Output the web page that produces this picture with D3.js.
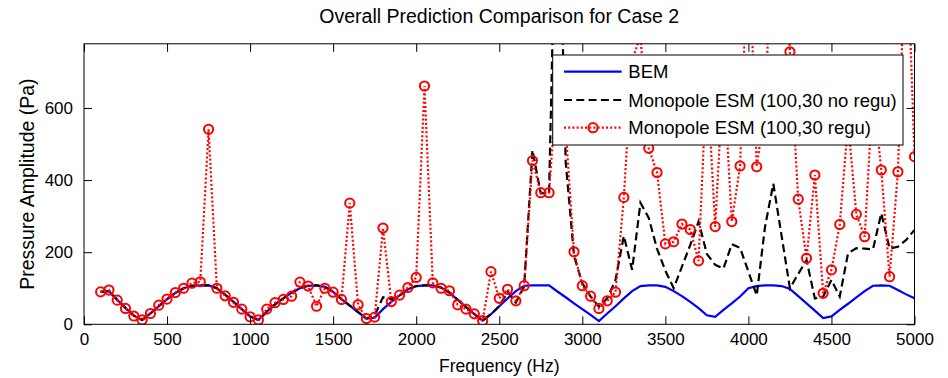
<!DOCTYPE html>
<html><head><meta charset="utf-8">
<script src="https://cdn.jsdelivr.net/npm/d3@7/dist/d3.min.js"></script>
<style>
body{margin:0;background:#fff}
text{font-family:"Liberation Sans",Arial,Helvetica,sans-serif;fill:#000}
</style>
</head><body>
<svg id="c" width="948" height="378"></svg>
<script>
// ---- data ----
const freqHz = [100,150,200,250,300,350,400,450,500,550,600,650,700,750,800,850,900,950,1000,1050,
  1100,1150,1200,1250,1300,1350,1400,1450,1500,1550,1600,1650,1700,1750,1800,1850,1900,1950,2000,2050,
  2100,2150,2200,2250,2300,2350,2400,2450,2500,2550,2600,2650,2700,2750,2800,2850,2900,2950,3000,3050,
  3100,3150,3200,3250,3300,3350,3400,3450,3500,3550,3600,3650,3700,3750,3800,3850,3900,3950,4000,4050,
  4100,4150,4200,4250,4300,4350,4400,4450,4500,4550,4600,4650,4700,4750,4800,4850,4900,4950,5000];

const bemPa = [90,92,68,45,24,12,30,50,70,87,100,107,108,108,100,82,62,42,22,12,
  35,55,72,88,100,107,108,104,90,70,52,34,16,18,42,62,80,97,106,108,
  108,102,88,68,48,28,10,28,50,72,92,107,108,108,108,91,75,58,42,26,
  9,30,50,72,92,106,108,108,104,92,78,62,45,25,21,40,58,77,100,106,
  108,108,106,98,78,58,38,17,22,40,57,75,92,107,108,107,95,83,72];

const noReguPa = [90,92,68,45,24,12,30,50,70,87,100,107,108,108,100,82,62,42,22,12,
  35,55,72,88,100,107,108,104,90,70,52,34,16,25,75,70,80,97,106,108,
  108,102,88,68,48,28,10,28,50,90,60,105,483,363,365,1400,450,190,114,77,
  49,72,123,245,151,337,295,209,149,100,160,220,285,195,165,155,222,212,146,80,
  270,390,245,100,140,178,72,77,123,77,197,211,210,208,308,210,215,234,262];

const reguPa = [90,95,67,44,23,12,30,53,70,88,100,114,118,541,100,79,61,42,21,12,
  42,60,69,78,117,106,50,100,89,69,336,54,16,20,267,63,81,102,130,661,
  115,100,93,54,42,29,10,146,72,97,65,107,454,365,365,690,540,201,107,78,
  44,65,89,352,732,800,488,421,223,229,278,263,176,700,271,700,285,439,1100,437,
  600,1150,1300,756,347,183,414,86,151,277,560,305,243,650,428,132,423,1130,465];

const xTicks = [0,500,1000,1500,2000,2500,3000,3500,4000,4500,5000];
const yTicks = [0,200,400,600];
const seriesNames = ["BEM","Monopole ESM (100,30 no regu)","Monopole ESM (100,30 regu)"];
const titleText = "Overall Prediction Comparison for Case 2";
const xLabel = "Frequency (Hz)";
const yLabel = "Pressure Amplitude (Pa)";

// ---- layout ----
const L = 84, R = 914.5, T = 43.8, B = 324.3;
const FS_TICK = 17, FS_XLAB = 17.5, FS_YLAB = 19.5, FS_TITLE = 19.5, FS_LEG = 18.5;
const svg = d3.select("#c");
const x = d3.scaleLinear().domain([0,5000]).range([L,R]);
const y = d3.scaleLinear().domain([0,778]).range([B,T]);

svg.append("defs").append("clipPath").attr("id","clip")
  .append("rect").attr("x",L).attr("y",T).attr("width",R-L).attr("height",B-T);

svg.append("rect").attr("x",L).attr("y",T).attr("width",R-L).attr("height",B-T).attr("fill","#fff");

const plot = svg.append("g").attr("clip-path","url(#clip)");
const line = d3.line().x((d,i)=>x(freqHz[i])).y(d=>y(d));

plot.append("path").datum(bemPa).attr("d",line)
  .attr("fill","none").attr("stroke","#0000ff").attr("stroke-width",2.2);
plot.append("path").datum(noReguPa).attr("d",line)
  .attr("fill","none").attr("stroke","#000").attr("stroke-width",2.2)
  .attr("stroke-dasharray","8,4.3");
plot.append("path").datum(reguPa).attr("d",line)
  .attr("fill","none").attr("stroke","#ff0000").attr("stroke-width",2.2)
  .attr("stroke-dasharray","2,2.2");
plot.selectAll("circle.m").data(reguPa).enter().append("circle").attr("class","m")
  .attr("cx",(d,i)=>x(freqHz[i])).attr("cy",d=>y(d)).attr("r",4.6)
  .attr("fill","none").attr("stroke","#ff0000").attr("stroke-width",2);

// ---- axes (ticks inward, box) ----
function styleAxis(g, showLabels){
  g.select(".domain").remove();
  g.selectAll(".tick line").attr("stroke","#000");
  g.selectAll(".tick text").style("font-size",FS_TICK+"px");
  if(!showLabels) g.selectAll(".tick text").remove();
}
svg.append("g").attr("transform",`translate(0,${B})`)
  .call(d3.axisBottom(x).tickValues(xTicks).tickSize(-8).tickPadding(9).tickFormat(d3.format("d")))
  .call(g=>styleAxis(g,true));
svg.append("g").attr("transform",`translate(0,${T})`)
  .call(d3.axisTop(x).tickValues(xTicks).tickSize(-8))
  .call(g=>styleAxis(g,false));
svg.append("g").attr("transform",`translate(${L},0)`)
  .call(d3.axisLeft(y).tickValues(yTicks).tickSize(-8).tickPadding(11).tickFormat(d3.format("d")))
  .call(g=>styleAxis(g,true));
svg.append("g").attr("transform",`translate(${R},0)`)
  .call(d3.axisRight(y).tickValues(yTicks).tickSize(-8))
  .call(g=>styleAxis(g,false));

svg.append("rect").attr("x",L).attr("y",T).attr("width",R-L).attr("height",B-T)
  .attr("fill","none").attr("stroke","#000").attr("stroke-width",1);

// ---- texts ----
svg.append("text").attr("x",(L+R)/2).attr("y",23).attr("text-anchor","middle")
  .style("font-size",FS_TITLE+"px").text(titleText);
svg.append("text").attr("x",(L+R)/2).attr("y",372).attr("text-anchor","middle")
  .style("font-size",FS_XLAB+"px").text(xLabel);
svg.append("text").attr("transform",`translate(34,${(T+B)/2}) rotate(-90)`).attr("text-anchor","middle")
  .style("font-size",FS_YLAB+"px").text(yLabel);

// ---- legend ----
const lg = svg.append("g");
lg.append("rect").attr("x",552.7).attr("y",55).attr("width",350.3).attr("height",90)
  .attr("fill","#fff").attr("stroke","#000").attr("stroke-width",1);
const legY = [71.7,100,127.7];
const legStyle = [
  {c:"#0000ff",dash:null,marker:false},
  {c:"#000",dash:"8,4.3",marker:false},
  {c:"#ff0000",dash:"2,2.2",marker:true}
];
seriesNames.forEach((name,i)=>{
  const yy = legY[i], s = legStyle[i];
  const ln = lg.append("line").attr("x1",564).attr("x2",621.7).attr("y1",yy).attr("y2",yy)
    .attr("stroke",s.c).attr("stroke-width",2.2);
  if(s.dash) ln.attr("stroke-dasharray",s.dash);
  if(s.marker) lg.append("circle").attr("cx",593).attr("cy",yy).attr("r",4.6)
    .attr("fill","none").attr("stroke",s.c).attr("stroke-width",2);
  lg.append("text").attr("x",628.3).attr("y",yy+6.6).style("font-size",FS_LEG+"px").text(name);
});
</script>
</body></html>
